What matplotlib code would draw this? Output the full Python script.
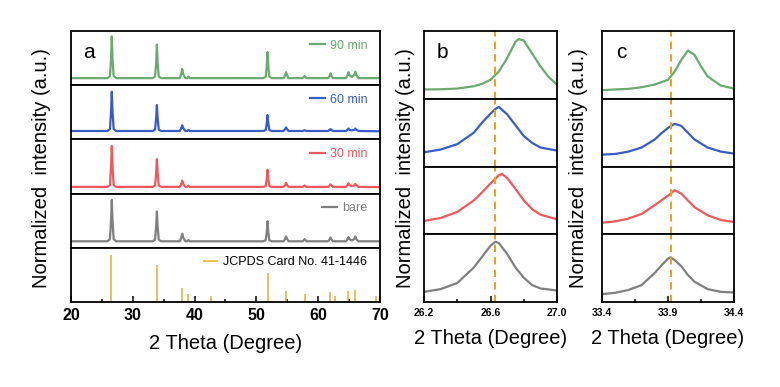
import numpy as np
import matplotlib
matplotlib.use("Agg")
import matplotlib.pyplot as plt

plt.rcParams["font.family"] = ["Liberation Sans", "DejaVu Sans"]

# colours for each sample
COLORS = {
    "90 min": "#6aaa70",
    "60 min": "#3a5cc2",
    "30 min": "#f0585b",
    "bare": "#7f7f7f",
}
GOLD = "#e8b445"
DASH = "#e9a225"

# ---- panel a: full patterns (subpanel units, 0..1) ----
xa = [20,
      25.9, 26.3, 26.48, 26.6, 26.72, 26.9, 27.3,
      33.2, 33.6, 33.78, 33.9, 34.02, 34.2, 34.6,
      37.6, 37.85, 38.0, 38.15, 38.5,
      38.8, 39.0, 39.2,
      51.1, 51.5, 51.68, 51.8, 51.92, 52.1, 52.5,
      54.4, 54.65, 54.8, 54.95, 55.2,
      57.5, 57.8, 58.1,
      61.6, 61.85, 62.0, 62.15, 62.4,
      64.5, 64.75, 64.9, 65.05,
      65.45,
      65.85, 66.0, 66.15, 66.5,
      70]

ya_90 = [0.13,
         0.13, 0.17, 0.48, 0.90, 0.48, 0.17, 0.13,
         0.13, 0.16, 0.41, 0.75, 0.41, 0.16, 0.13,
         0.13, 0.21, 0.30, 0.21, 0.13,
         0.13, 0.16, 0.13,
         0.13, 0.155, 0.35, 0.61, 0.35, 0.155, 0.13,
         0.13, 0.185, 0.24, 0.185, 0.13,
         0.13, 0.17, 0.13,
         0.13, 0.175, 0.22, 0.175, 0.13,
         0.13, 0.185, 0.24, 0.185,
         0.15,
         0.19, 0.25, 0.19, 0.13,
         0.13]
ya_60 = [0.155,
         0.155, 0.19, 0.52, 0.88, 0.52, 0.19, 0.155,
         0.155, 0.18, 0.395, 0.635, 0.395, 0.18, 0.155,
         0.155, 0.21, 0.26, 0.21, 0.155,
         0.155, 0.175, 0.155,
         0.155, 0.17, 0.30, 0.45, 0.30, 0.17, 0.155,
         0.155, 0.19, 0.22, 0.19, 0.155,
         0.155, 0.17, 0.155,
         0.155, 0.175, 0.19, 0.175, 0.155,
         0.155, 0.18, 0.20, 0.18,
         0.165,
         0.18, 0.20, 0.18, 0.155,
         0.15]
ya_30 = [0.124,
         0.124, 0.16, 0.50, 0.88, 0.50, 0.16, 0.124,
         0.124, 0.15, 0.38, 0.635, 0.38, 0.15, 0.124,
         0.124, 0.18, 0.24, 0.18, 0.124,
         0.124, 0.145, 0.124,
         0.124, 0.14, 0.28, 0.44, 0.28, 0.14, 0.124,
         0.124, 0.16, 0.20, 0.16, 0.124,
         0.124, 0.15, 0.124,
         0.124, 0.15, 0.17, 0.15, 0.124,
         0.124, 0.16, 0.19, 0.16,
         0.135,
         0.155, 0.18, 0.155, 0.124,
         0.12]
ya_bare = [0.12,
           0.12, 0.16, 0.50, 0.885, 0.50, 0.16, 0.12,
           0.12, 0.15, 0.39, 0.67, 0.39, 0.15, 0.12,
           0.12, 0.19, 0.26, 0.19, 0.12,
           0.12, 0.145, 0.12,
           0.12, 0.14, 0.29, 0.49, 0.29, 0.14, 0.12,
           0.12, 0.165, 0.21, 0.165, 0.12,
           0.12, 0.16, 0.12,
           0.12, 0.155, 0.19, 0.155, 0.12,
           0.12, 0.16, 0.20, 0.16,
           0.135,
           0.165, 0.21, 0.165, 0.12,
           0.12]

# JCPDS Card No. 41-1446 reference lines
ref_pos = [26.55, 33.85, 37.95, 38.95, 42.6, 51.8, 54.8, 57.8, 61.9, 62.65, 64.8, 66.0, 69.3]
ref_int = [0.87, 0.685, 0.265, 0.14, 0.11, 0.54, 0.21, 0.15, 0.19, 0.11, 0.20, 0.22, 0.11]

# ---- panel b: (110) peak ----
xb_90 = [26.2, 26.3, 26.4, 26.5, 26.55, 26.6, 26.65, 26.7, 26.75, 26.77, 26.8, 26.85, 26.9, 26.95, 27.0]
yb_90 = [0.137, 0.14, 0.15, 0.185, 0.22, 0.28, 0.40, 0.60, 0.84, 0.88, 0.86, 0.67, 0.48, 0.32, 0.21]
xb_60 = [26.2, 26.3, 26.4, 26.5, 26.55, 26.6, 26.63, 26.65, 26.7, 26.75, 26.8, 26.85, 26.9, 27.0]
yb_60 = [0.21, 0.25, 0.33, 0.50, 0.65, 0.78, 0.85, 0.88, 0.77, 0.61, 0.45, 0.35, 0.28, 0.235]
xb_30 = [26.2, 26.3, 26.4, 26.5, 26.55, 26.6, 26.65, 26.67, 26.7, 26.75, 26.8, 26.85, 26.9, 27.0]
yb_30 = [0.196, 0.24, 0.33, 0.50, 0.62, 0.75, 0.87, 0.89, 0.83, 0.67, 0.50, 0.37, 0.29, 0.22]
xb_bare = [26.2, 26.3, 26.4, 26.5, 26.55, 26.6, 26.63, 26.65, 26.7, 26.75, 26.8, 26.85, 26.9, 27.0]
yb_bare = [0.15, 0.19, 0.28, 0.51, 0.67, 0.83, 0.89, 0.87, 0.71, 0.51, 0.36, 0.25, 0.20, 0.17]

# ---- panel c: (101) peak ----
xc_90 = [33.4, 33.5, 33.6, 33.7, 33.8, 33.9, 33.95, 34.0, 34.05, 34.1, 34.15, 34.2, 34.3, 34.4]
yc_90 = [0.127, 0.137, 0.146, 0.17, 0.21, 0.28, 0.40, 0.57, 0.71, 0.65, 0.48, 0.33, 0.195, 0.15]
xc_60 = [33.4, 33.5, 33.6, 33.7, 33.8, 33.85, 33.9, 33.95, 34.0, 34.05, 34.1, 34.2, 34.3, 34.4]
yc_60 = [0.175, 0.185, 0.22, 0.28, 0.40, 0.49, 0.57, 0.63, 0.60, 0.50, 0.40, 0.28, 0.22, 0.19]
xc_30 = [33.4, 33.5, 33.6, 33.7, 33.8, 33.9, 33.95, 34.0, 34.05, 34.1, 34.2, 34.3, 34.4]
yc_30 = [0.17, 0.19, 0.23, 0.30, 0.43, 0.57, 0.65, 0.60, 0.50, 0.40, 0.28, 0.21, 0.18]
xc_bare = [33.4, 33.5, 33.6, 33.7, 33.8, 33.85, 33.9, 33.92, 33.95, 34.0, 34.05, 34.1, 34.2, 34.3, 34.4]
yc_bare = [0.116, 0.136, 0.177, 0.25, 0.43, 0.54, 0.64, 0.66, 0.62, 0.53, 0.40, 0.30, 0.19, 0.15, 0.14]

peak_b = 26.63
peak_c = 33.92

labels = ["90 min", "60 min", "30 min", "bare"]
curves_a = [ya_90, ya_60, ya_30, ya_bare]
curves_b = [(xb_90, yb_90), (xb_60, yb_60), (xb_30, yb_30), (xb_bare, yb_bare)]
curves_c = [(xc_90, yc_90), (xc_60, yc_60), (xc_30, yc_30), (xc_bare, yc_bare)]

W, H = 780, 387
fig = plt.figure(figsize=(W / 100, H / 100), dpi=100)


def stack_axes(left_px, right_px, top_px, bottom_px, n):
    h = (bottom_px - top_px) / n
    axes = []
    for i in range(n):
        t = top_px + i * h
        ax = fig.add_axes([left_px / W, 1 - (t + h) / H, (right_px - left_px) / W, h / H])
        ax.set_ylim(0, 1)
        ax.set_yticks([])
        for s in ax.spines.values():
            s.set_linewidth(1.3)
        ax.tick_params(axis="x", which="both", bottom=False, labelbottom=False)
        axes.append(ax)
    return axes


def style_bottom(ax, major, minor, fs):
    ax.set_xticks(major)
    ax.set_xticks(minor, minor=True)
    ax.tick_params(axis="x", which="both", bottom=True, labelbottom=True,
                   direction="in", width=1.1)
    ax.tick_params(axis="x", which="major", length=4, labelsize=fs, pad=4)
    ax.tick_params(axis="x", which="minor", length=2.5)
    for lab in ax.get_xticklabels():
        lab.set_fontweight("bold")
    ax.set_xlabel("2 Theta (Degree)", fontsize=14.5, labelpad=8)


# ---- panel a ----
axa = stack_axes(71, 380, 31, 302, 5)
for ax, lab, y in zip(axa[:4], labels, curves_a):
    ax.plot(xa, y, color=COLORS[lab], lw=1.6, label=lab)
axa[4].vlines(ref_pos, 0, ref_int, color=GOLD, lw=1.2, label="JCPDS Card No. 41-1446")
for ax in axa:
    ax.set_xlim(20, 70)
    ax.legend(loc="center right", bbox_to_anchor=(0.975, 0.73), frameon=False,
              fontsize=9, handlelength=1.2, handletextpad=0.4, borderaxespad=0,
              labelcolor="linecolor")
style_bottom(axa[4], [20, 30, 40, 50, 60, 70], [25, 35, 45, 55, 65], 11.5)
axa[0].text(0.058, 0.61, "a", transform=axa[0].transAxes, fontsize=15,
            ha="center", va="center")

# ---- panel b ----
axb = stack_axes(424, 557, 31, 302, 4)
for ax, lab, (x, y) in zip(axb, labels, curves_b):
    ax.plot(x, y, color=COLORS[lab], lw=1.6)
    ax.axvline(peak_b, color=DASH, lw=1.5, ls=(0, (3.5, 2.5)))
    ax.set_xlim(26.2, 27.0)
style_bottom(axb[3], [26.2, 26.6, 27.0], [26.4, 26.8], 7.5)
axb[3].set_xticklabels(["26.2", "26.6", "27.0"], fontweight="bold")
axb[0].text(0.14, 0.69, "b", transform=axb[0].transAxes, fontsize=15,
            ha="center", va="center")

# ---- panel c ----
axc = stack_axes(602, 734, 31, 302, 4)
for ax, lab, (x, y) in zip(axc, labels, curves_c):
    ax.plot(x, y, color=COLORS[lab], lw=1.6)
    ax.axvline(peak_c, color=DASH, lw=1.5, ls=(0, (3.5, 2.5)))
    ax.set_xlim(33.4, 34.4)
style_bottom(axc[3], [33.4, 33.9, 34.4], [33.65, 34.15], 7.5)
axc[0].text(0.15, 0.69, "c", transform=axc[0].transAxes, fontsize=15,
            ha="center", va="center")

# y labels
for xpx in (42, 405, 578):
    fig.text(xpx / W, 1 - 168 / H, "Normalized  intensity (a.u.)", rotation=90,
             fontsize=14.5, ha="center", va="center")

fig.savefig("out.png", dpi=100)
